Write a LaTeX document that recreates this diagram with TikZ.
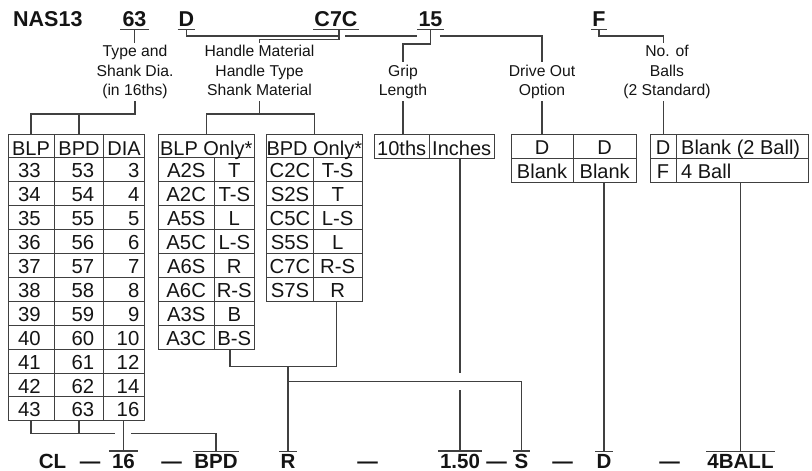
\documentclass[tikz,border=0pt]{standalone}
\usepackage{fontspec}
\setmainfont{Liberation Sans}
\begin{document}
\begin{tikzpicture}[x=1pt,y=-1pt,
  wire/.style={draw=black!75,line width=1.25pt},
  tbl/.style={draw=black!75,line width=1pt},
  topc/.style={font=\fontsize{21.5}{24}\selectfont\bfseries,anchor=base,inner xsep=1pt,inner ysep=3pt},
  botc/.style={font=\fontsize{20.5}{24}\selectfont\bfseries,anchor=base,inner xsep=1pt,inner ysep=2.4pt},
  ann/.style={font=\fontsize{15.7}{19}\selectfont,anchor=base,inner sep=2.5pt,text height=11pt,text depth=3.3pt},
  hd/.style={font=\fontsize{20}{24}\selectfont,anchor=base,inner sep=0pt},
  dat/.style={font=\fontsize{20.3}{24}\selectfont,anchor=base,inner sep=0pt},
  text=black!92]
\useasboundingbox (0,0) rectangle (812,471);

% ---------- top code line ----------
\node[topc,anchor=base west,inner xsep=0pt] (nas) at (13,26) {NAS13};
\node[topc,inner xsep=2pt] (k63) at (134.5,26) {63};
\node[topc] (kD) at (186.5,26) {D};
\node[topc] (kC) at (336,26) {C7C};
\node[topc] (k15) at (430.5,26) {15};
\node[topc] (kF) at (599,26) {F};
\foreach \n in {k63,kD,kC,k15,kF} \draw[wire] (\n.south west) -- (\n.south east);

% ---------- annotations ----------
\node[ann] (a1a) at (135,56.7) {Type and};
\node[ann] (a1b) at (135,76) {Shank Dia.};
\node[ann] (a1c) at (135,95.3) {(in 16ths)};
\node[ann] (a2a) at (259.5,56.7) {Handle Material};
\node[ann] (a2b) at (259.5,76) {Handle Type};
\node[ann] (a2c) at (259.5,95.3) {Shank Material};
\node[ann] (a3a) at (403,76) {Grip};
\node[ann] (a3b) at (403,95.3) {Length};
\node[ann] (a4a) at (542,76) {Drive Out};
\node[ann] (a4b) at (542,95.3) {Option};
\node[ann] (a5a) at (667,56.7) {No. of};
\node[ann] (a5b) at (667,76) {Balls};
\node[ann] (a5c) at (667,95.3) {(2 Standard)};

% ---------- helper coordinates ----------
\coordinate (h36) at (0,36);
\coordinate (h40) at (0,39.5);
\coordinate (h44) at (0,44);
\coordinate (h114) at (0,114);
\coordinate (ttop) at (0,134);
\coordinate (cC) at ([xshift=3pt]kC.south);
\coordinate (fx) at (663.5,0);
\coordinate (dA) at (345,36);
\coordinate (dB) at (417,36);
\coordinate (dC) at (440,36);

% ---------- top connectors ----------
\draw[wire] (k63.south) -- (k63.south |- a1a.north);
\draw[wire] (kD.south) |- (cC |- h36);
\draw[wire] (dA) -- (dB);
\draw[wire] (dC) -| (a4a.north);
\draw[wire] (cC) -- (cC |- h40) -| (a2a.north);
\draw[wire] (k15.south) |- (a3a.north |- h44) -- (a3a.north);
\draw[wire] (kF.south) |- (fx |- h36) -- (fx |- a5a.north);

% ---------- table 1 ----------
\draw[tbl] (8,134) rectangle (144.3,420.8);
\draw[tbl] (54.3,134) -- (54.3,420.8) (103.7,134) -- (103.7,420.8);
\foreach \i in {1,...,11} \draw[tbl] (8,134+\i*23.9) -- (144.3,134+\i*23.9);
\node[hd] (t1h1) at (31,155) {BLP};
\node[hd] (t1h2) at (79,155) {BPD};
\node[hd] (t1h3) at (124,155) {DIA};
\foreach \a/\b/\c [count=\i] in {33/53/3,34/54/4,35/55/5,36/56/6,37/57/7,38/58/8,39/59/9,40/60/10,41/61/12,42/62/14,43/63/16}{
  \node[dat] (t1a\i) at (29.5,134+\i*23.9+20) {\a};
  \node[dat] (t1b\i) at (83,134+\i*23.9+20) {\b};
  \node[dat,anchor=base east] (t1c\i) at (139.5,134+\i*23.9+20) {\c};
}

% ---------- table 2 ----------
\draw[tbl] (158,134) rectangle (254.3,349.1);
\draw[tbl] (214.3,157.9) -- (214.3,349.1);
\foreach \i in {1,...,8} \draw[tbl] (158,134+\i*23.9) -- (254.3,134+\i*23.9);
\node[hd] (t2h) at (206.2,155) {BLP Only*};
\foreach \a/\b [count=\i] in {A2S/T,A2C/T-S,A5S/L,A5C/L-S,A6S/R,A6C/R-S,A3S/B,A3C/B-S}{
  \node[dat] (t2a\i) at (186.2,134+\i*23.9+20) {\a};
  \node[dat] (t2b\i) at (234.3,134+\i*23.9+20) {\b};
}

% ---------- table 3 ----------
\draw[tbl] (266.7,134) rectangle (362,301.3);
\draw[tbl] (313.3,157.9) -- (313.3,301.3);
\foreach \i in {1,...,6} \draw[tbl] (266.7,134+\i*23.9) -- (362,134+\i*23.9);
\node[hd] (t3h) at (314.3,155) {BPD Only*};
\foreach \a/\b [count=\i] in {C2C/T-S,S2S/T,C5C/L-S,S5S/L,C7C/R-S,S7S/R}{
  \node[dat] (t3a\i) at (290,134+\i*23.9+20) {\a};
  \node[dat] (t3b\i) at (337.7,134+\i*23.9+20) {\b};
}

% ---------- table 4 ----------
\draw[tbl] (374.3,134) rectangle (494.3,158);
\draw[tbl] (429,134) -- (429,158);
\node[hd] (t4h1) at (401.7,155) {10ths};
\node[hd] (t4h2) at (461.7,155) {Inches};

% ---------- table 5 ----------
\draw[tbl] (511,134) rectangle (636,182);
\draw[tbl] (573.3,134) -- (573.3,182) (511,158) -- (636,158);
\node[hd] (t5a) at (542,154) {D};
\node[hd] (t5b) at (604.7,154) {D};
\node[hd] (t5c) at (542,178) {Blank};
\node[hd] (t5d) at (604.7,178) {Blank};

% ---------- table 6 ----------
\draw[tbl] (650.3,134) rectangle (808.3,182);
\draw[tbl] (676,134) -- (676,182) (650.3,158) -- (808.3,158);
\node[hd] (t6a) at (663,154) {D};
\node[hd] (t6c) at (663,178) {F};
\node[hd,anchor=base west] (t6b) at (681,154) {Blank (2 Ball)};
\node[hd,anchor=base west] (t6d) at (681,178) {4 Ball};

% ---------- connectors annotations -> tables ----------
\draw[wire] (a1c.south) -- (a1c.south |- h114) -- (t1h1 |- h114) -- (t1h1 |- ttop);
\draw[wire] (t1h2 |- h114) -- (t1h2 |- ttop);
\draw[wire] (a2c.south) -- (a2c.south |- h114);
\draw[wire] (t2h |- ttop) |- (t3h |- h114) -- (t3h |- ttop);
\draw[wire] (a3b.south) -- (a3b.south |- ttop);
\draw[wire] (a4b.south) -- (a4b.south |- ttop);
\draw[wire] (fx |- a5c.south) -- (fx |- ttop);

% ---------- bottom code line ----------
\node[botc] (bCL) at (52.5,468) {CL};
\node[botc] (m1) at (90,468) {—};
\node[botc,inner xsep=3pt] (b16) at (123.5,468) {16};
\node[botc] (m2) at (171.5,468) {—};
\node[botc] (bBPD) at (216,468) {BPD};
\node[botc] (bR) at (288,468) {R};
\node[botc] (m3) at (367.5,468) {—};
\node[botc,inner xsep=2pt] (b150) at (460,468) {1.50};
\node[botc] (m4) at (496.5,468) {—};
\node[botc] (bS) at (521.5,468) {S};
\node[botc] (m5) at (562.5,468) {—};
\node[botc] (bD) at (604,468) {D};
\node[botc] (m6) at (669.5,468) {—};
\node[botc] (b4) at (740.5,468) {4BALL};
\foreach \n in {b16,bBPD,bR,b150,bS,bD,b4} \draw[wire] (\n.north west) -- (\n.north east);

% ---------- bottom connectors ----------
\coordinate (t1bot) at (0,420.8);
\coordinate (h433) at (0,433.3);
\coordinate (g2) at (115,433.3);
\coordinate (g3) at (131,433.3);
\coordinate (t2bot) at (0,349.1);
\coordinate (t3bot) at (0,301.3);
\coordinate (h367) at (0,366.7);
\coordinate (h382) at (0,381.7);
\coordinate (t2x) at (230,0);
\coordinate (t3x) at (336.7,0);
\coordinate (t4bot) at (0,158);
\coordinate (gI1) at (0,373.3);
\coordinate (gI2) at (0,390);
\coordinate (t56bot) at (0,182);

\draw[wire] (t1h1 |- t1bot) |- (g2);
\draw[wire] (t1h2 |- t1bot) -- (t1h2 |- h433);
\draw[wire] (g3) -| (bBPD.north);
\draw[wire] (b16.north |- t1bot) -- (b16.north);
\draw[wire] (t2x |- t2bot) |- (t3x |- h367) -- (t3x |- t3bot);
\draw[wire] (bR.north |- h367) -- (bR.north);
\draw[wire] (bR.north |- h382) -| (bS.north);
\draw[wire] (b150.north |- t4bot) -- (b150.north |- gI1);
\draw[wire] (b150.north |- gI2) -- (b150.north);
\draw[wire] (bD.north |- t56bot) -- (bD.north);
\draw[wire] (b4.north |- t56bot) -- (b4.north);
\end{tikzpicture}
\end{document}
